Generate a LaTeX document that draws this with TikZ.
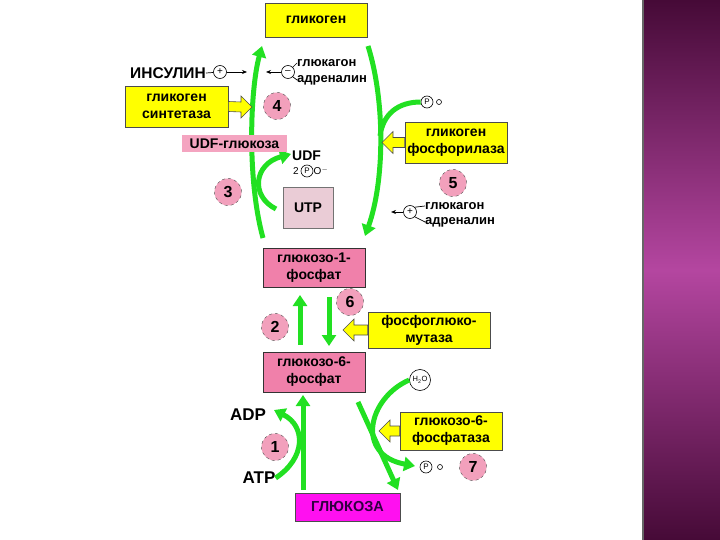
\documentclass[tikz,border=0pt]{standalone}
\usepackage{fontspec}
\setmainfont{Liberation Sans}
\usetikzlibrary{arrows.meta,calc}
\definecolor{gr}{HTML}{22E022}
\definecolor{yel}{HTML}{FFFF00}
\definecolor{pk}{HTML}{F080AA}
\definecolor{lpk}{HTML}{F4A4C0}
\definecolor{utp}{HTML}{EACCD6}
\definecolor{mag}{HTML}{FF10F0}
\definecolor{cpk}{HTML}{F2A0BC}
\definecolor{pdark}{HTML}{460A37}
\definecolor{pmid}{HTML}{B446A0}
\definecolor{gtext}{HTML}{300040}
\newcommand\yarrL[2]{\draw[yarrow] ($(#1)+(0,-5)$) -- ($(#2)+(11,-5)$) -- ($(#2)+(11,-11)$) -- (#2) -- ($(#2)+(11,11)$) -- ($(#2)+(11,5)$) -- ($(#1)+(0,5)$) -- cycle;}
\newcommand\yarrR[2]{\draw[yarrow] ($(#1)+(0,-5)$) -- ($(#2)+(-11,-5)$) -- ($(#2)+(-11,-11)$) -- (#2) -- ($(#2)+(-11,11)$) -- ($(#2)+(-11,5)$) -- ($(#1)+(0,5)$) -- cycle;}
\begin{document}
\begin{tikzpicture}[x=1pt,y=-1pt,
  font=\bfseries\fontsize{14}{17}\selectfont,
  ybox/.style={fill=yel, draw=black!70, line width=0.6pt, align=center, inner sep=1pt},
  pbox/.style={fill=pk, draw=black!80, line width=0.8pt, align=center, inner sep=1pt},
  num/.style={circle, fill=cpk, draw=black!70, dashed, minimum size=27pt, inner sep=0pt, font=\bfseries\fontsize{16}{16}\selectfont},
  garr/.style={draw=gr, line width=5pt, -{Triangle[length=11pt,width=14pt]}},
  gline/.style={draw=gr, line width=5pt},
  yarrow/.style={fill=yel, draw=black!70, line width=0.6pt},
  sym/.style={circle, draw=black, line width=0.6pt, inner sep=0pt, minimum size=13pt, font=\fontsize{10}{10}\selectfont},
  psym/.style={circle, draw=black, line width=0.6pt, inner sep=0pt, minimum size=12pt, font=\fontsize{8}{8}\selectfont},
  osym/.style={circle, draw=black, line width=0.6pt, inner sep=0pt, minimum size=5pt},
  lbl/.style={font=\bfseries\fontsize{13}{13}\selectfont, inner sep=0pt},
  tip/.style={-{Stealth[length=5pt,width=4pt]}, line width=0.7pt}
]
\useasboundingbox (0,0) rectangle (720,540);
% purple band
\shade[top color=pdark, bottom color=pdark, middle color=pmid] (642,0) rectangle (720,540);
\fill[black!60] (642,0) rectangle (643.5,540);

% green arrows (drawn first, boxes on top)
\coordinate (a4s) at (263,238);
\coordinate (a4e) at (262,46);
\draw[garr] (a4s) .. controls (247,180) and (250,90) .. (a4e);
\coordinate (a5s) at (368,46);
\coordinate (a5e) at (365,236);
\draw[garr] (a5s) .. controls (385,100) and (385,180) .. (a5e);
\coordinate (a3s) at (276,209);
\coordinate (a3e) at (291,154);
\draw[garr] (a3s) .. controls (250,196) and (254,164) .. (a3e);

% boxes
\node[ybox, minimum width=102pt, minimum height=34pt] (glyc) at (316,20) {гликоген};
\node[ybox, minimum width=103pt, minimum height=41pt] (syn) at (176.5,106.5) {гликоген\\синтетаза};
\node[fill=lpk, minimum width=105pt, minimum height=17pt, inner sep=0pt] (udfg) at (234.5,143.5) {UDF-глюкоза};
\node[fill=utp, draw=black!55, line width=0.8pt, minimum width=50pt, minimum height=41pt] (utp) at (308,207.5) {UTP};
\node[ybox, minimum width=102pt, minimum height=41pt] (phos) at (456,142.5) {гликоген\\фосфорилаза};
\node[pbox, minimum width=102pt, minimum height=39pt] (g1p) at (314,267.5) {глюкозо-1-\\фосфат};
\node[ybox, minimum width=122pt, minimum height=36pt] (mut) at (429,330) {фосфоглюко-\\мутаза};
\node[pbox, minimum width=102pt, minimum height=40pt] (g6p) at (314,372) {глюкозо-6-\\фосфат};
\node[ybox, minimum width=102pt, minimum height=38pt] (g6pase) at (451,431) {глюкозо-6-\\фосфатаза};
\node[fill=mag, draw=black!70, line width=0.8pt, minimum width=105pt, minimum height=28pt, text=gtext, font=\bfseries\fontsize{14.5}{15}\selectfont] (glc) at (347.5,507) {ГЛЮКОЗА};

% numbers
\node[num] (n4) at (277,106) {4};
\node[num] (n3) at (228,192) {3};
\node[num] (n5) at (453,183) {5};
\node[num] (n6) at (350,302) {6};
\node[num] (n2) at (275,327) {2};
\node[num] (n1) at (275,447) {1};
\node[num] (n7) at (473,467) {7};

% regulators top left
\node[inner sep=0pt, font=\bfseries\fontsize{15.5}{16}\selectfont] (ins) at (168,73) {ИНСУЛИН};
\node[sym] (ip) at (220,72) {+};
\coordinate (ia) at (247,72);
\draw[line width=0.7pt] (ins.east) -- (ip);
\draw[tip] (ip) -- (ia);
\node[sym] (im) at (288,72) {–};
\coordinate (ma) at (266,72);
\draw[tip] (im) -- (ma);
\node[lbl, anchor=west] (gl1) at (297,63) {глюкагон};
\node[lbl, anchor=west] (ad1) at (297,80) {адреналин};
\draw[line width=0.7pt] (im.north east) -- (gl1.west);
\draw[line width=0.7pt] (im.south east) -- (ad1.west);

% regulators right
\node[sym] (rp) at (410,212) {+};
\coordinate (ra) at (391,212);
\draw[tip] (rp) -- (ra);
\node[lbl, anchor=west] (gl2) at (425,206) {глюкагон};
\node[lbl, anchor=west] (ad2) at (425,222) {адреналин};
\draw[line width=0.7pt] (rp.north east) -- (gl2.west);
\draw[line width=0.7pt] (rp.south east) -- (ad2.west);

% phosphate symbols
\node[psym] (p5) at (427,102) {P};
\node[osym] (o5) at (439,102) {};
\node[psym] (p7) at (426,467) {P};
\node[osym] (o7) at (440,467) {};
\node[circle, draw=black, line width=0.6pt, minimum size=21pt, inner sep=0pt, font=\fontsize{7.5}{8}\selectfont] (h2o) at (420,380) {H\textsubscript{2}O};

% UDF
\node[inner sep=0pt, anchor=west, font=\bfseries\fontsize{14}{14}\selectfont] (udf) at (292,156) {UDF};
\node[inner sep=0pt, font=\fontsize{10}{10}\selectfont] (two) at (296,171) {2};
\node[psym] (p3) at (307,171) {P};
\node[inner sep=0pt, font=\fontsize{10}{10}\selectfont] (o3) at (321,171) {O$^{-}$};

% ADP / ATP
\node[inner sep=0pt, font=\bfseries\fontsize{17}{17}\selectfont] (adp) at (248,415) {ADP};
\node[inner sep=0pt, font=\bfseries\fontsize{17}{17}\selectfont] (atp) at (259,478) {ATP};

% remaining green arrows
\coordinate (m5) at (380,136);
\draw[gline] (p5.west) .. controls (398,102) and (383,114) .. (m5);
\coordinate (u2s) at (300,345);
\coordinate (u2e) at (300,295);
\draw[garr] (u2s) -- (u2e);
\coordinate (d6s) at (329,297);
\coordinate (d6e) at (329,346);
\draw[garr] (d6s) -- (d6e);
\coordinate (u1s) at (303,490);
\coordinate (u1e) at (303,395);
\draw[garr] (u1s) -- (u1e);
\coordinate (adpt) at (274,410);
\draw[garr] (atp.east) .. controls (306,458) and (306,426) .. (adpt);
\coordinate (s7s) at (358,402);
\coordinate (s7e) at (398,490);
\draw[garr] (s7s) -- (s7e);
\coordinate (c7e) at (415,466);
\draw[garr] (h2o.west) .. controls (368,398) and (355,455) .. (c7e);

% yellow block arrows
\coordinate (t4) at (252,107);
\yarrR{syn.east}{t4}
\coordinate (t5) at (382,142.5);
\yarrL{phos.west}{t5}
\coordinate (t6) at (343,330);
\yarrL{mut.west}{t6}
\coordinate (t7) at (379,431);
\yarrL{g6pase.west}{t7}
\end{tikzpicture}
\end{document}
